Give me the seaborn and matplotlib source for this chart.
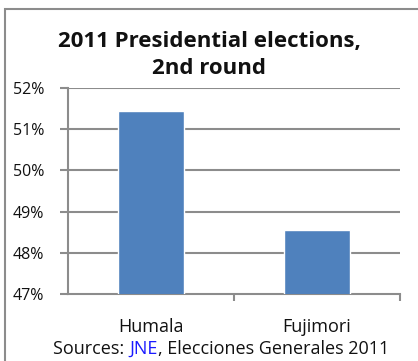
import matplotlib
matplotlib.use("Agg")
import matplotlib.pyplot as plt
import seaborn as sns
import pandas as pd
from matplotlib.patches import Rectangle
from matplotlib.ticker import FixedLocator, FuncFormatter

candidates = ["Humala", "Fujimori"]
shares = [51.45, 48.55]
title_lines = ["2011 Presidential elections,", "2nd round"]
yticks = [47, 48, 49, 50, 51, 52]

sns.set_theme(style="white")
plt.rcParams['font.family'] = ['Open Sans', 'DejaVu Sans']

W, H = 418, 361
fig = plt.figure(figsize=(W / 100, H / 100), dpi=100)
ax = fig.add_axes([68 / W, 1 - 294 / H, (400 - 68) / W, (294 - 88) / H])

df = pd.DataFrame({"candidate": candidates, "share": shares})
sns.barplot(data=df, x="candidate", y="share", color="#4F81BD", saturation=1,
            width=0.4, ax=ax, zorder=3)

ax.set_ylim(47, 52)
ax.set_xlim(-0.5, 1.5)
ax.set_yticks(yticks)
ax.yaxis.set_major_formatter(FuncFormatter(lambda v, p: f"{v:.0f}%"))
ax.set_xlabel("")
ax.set_ylabel("")
grid_c = "#8c8c8c"
for y in yticks[1:]:
    ax.axhline(y, color=grid_c, lw=1.5, zorder=1)
for s in ["top", "right"]:
    ax.spines[s].set_visible(False)
for s in ["left", "bottom"]:
    ax.spines[s].set_color(grid_c)
    ax.spines[s].set_linewidth(1.5)
ax.tick_params(axis="y", left=True, length=6, width=1.5, color=grid_c,
               labelsize=11.5, pad=11, labelcolor="#111111")
ax.tick_params(axis="x", which="major", bottom=False, labelsize=13, pad=11,
               labelcolor="#111111")
ax.xaxis.set_minor_locator(FixedLocator([0.5, 1.5]))
ax.tick_params(axis="x", which="minor", bottom=True, length=5, width=1.5,
               color=grid_c)

fig.text(0.5, 1 - 41 / H, title_lines[0], ha="center", va="center",
         fontsize=16, fontweight="bold", color="#111111")
fig.text(0.5, 1 - 68 / H, title_lines[1], ha="center", va="center",
         fontsize=16, fontweight="bold", color="#111111")

# border
fig.patches.append(Rectangle((4.5 / W, -0.1), (W + 10) / W, 1.1 - 9 / H,
                             transform=fig.transFigure, fill=False,
                             edgecolor="#8c8c8c", lw=1.5))

# source line with blue JNE
parts = [("Sources: ", "#111111"), ("JNE", "#1a1aff"),
         (", Elecciones Generales 2011", "#111111")]
fig.canvas.draw()
r = fig.canvas.get_renderer()
texts = []
for s, c in parts:
    t = fig.text(0, 3 / H, s, color=c, fontsize=13, va="bottom", ha="left")
    texts.append(t)
widths = [t.get_window_extent(renderer=r).width for t in texts]
total = sum(widths)
start = 221 - total / 2
for t, w in zip(texts, widths):
    t.set_x(start / W)
    start += w

fig.savefig("out.png", dpi=100)
